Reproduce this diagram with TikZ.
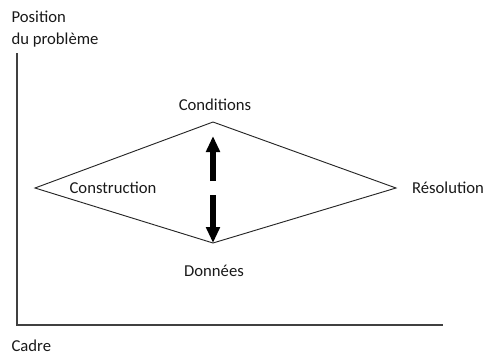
\documentclass[tikz,border=0pt]{standalone}
\usepackage{fontspec}
\setmainfont{Carlito}
\usetikzlibrary{arrows.meta}

\begin{document}
\begin{tikzpicture}[x=0.75pt,y=-0.75pt,font=\fontsize{12.5}{16}\selectfont,
  label/.style={inner sep=1pt, text=black!90},
  bigarrow/.style={line width=4.5pt, -{Triangle[width=10pt,length=12pt]}}]
\useasboundingbox (0,0) rectangle (485,358);
% axes
\coordinate (o) at (17,325);
\coordinate (ytop) at (17,53);
\coordinate (xend) at (443,325);
\draw[line width=1.4pt, black!75] (ytop) -- (o) -- (xend);
% axis labels
\node[label, anchor=west, align=left] (pos) at (10,29) {Position\\du problème};
\node[label, anchor=west] (cadre) at (10,346) {Cadre};
% diamond
\coordinate (left) at (35,188);
\coordinate (top) at (213,122);
\coordinate (right) at (396,188);
\coordinate (bottom) at (213,243);
\draw[line width=0.7pt, black!85] (left) -- (top) -- (right) -- (bottom) -- cycle;
% vertex labels
\node[label] (cond) at (215,105) {Conditions};
\node[label] (constr) at (113,188) {Construction};
\node[label] (resol) at (448,188) {Résolution};
\node[label] (donn) at (214,271) {Données};
% arrows
\coordinate (upfrom) at (213,181);
\coordinate (upto) at (213,136);
\coordinate (downfrom) at (213,195);
\coordinate (downto) at (213,243);
\draw[bigarrow] (upfrom) -- (upto);
\draw[bigarrow] (downfrom) -- (downto);
\end{tikzpicture}
\end{document}
